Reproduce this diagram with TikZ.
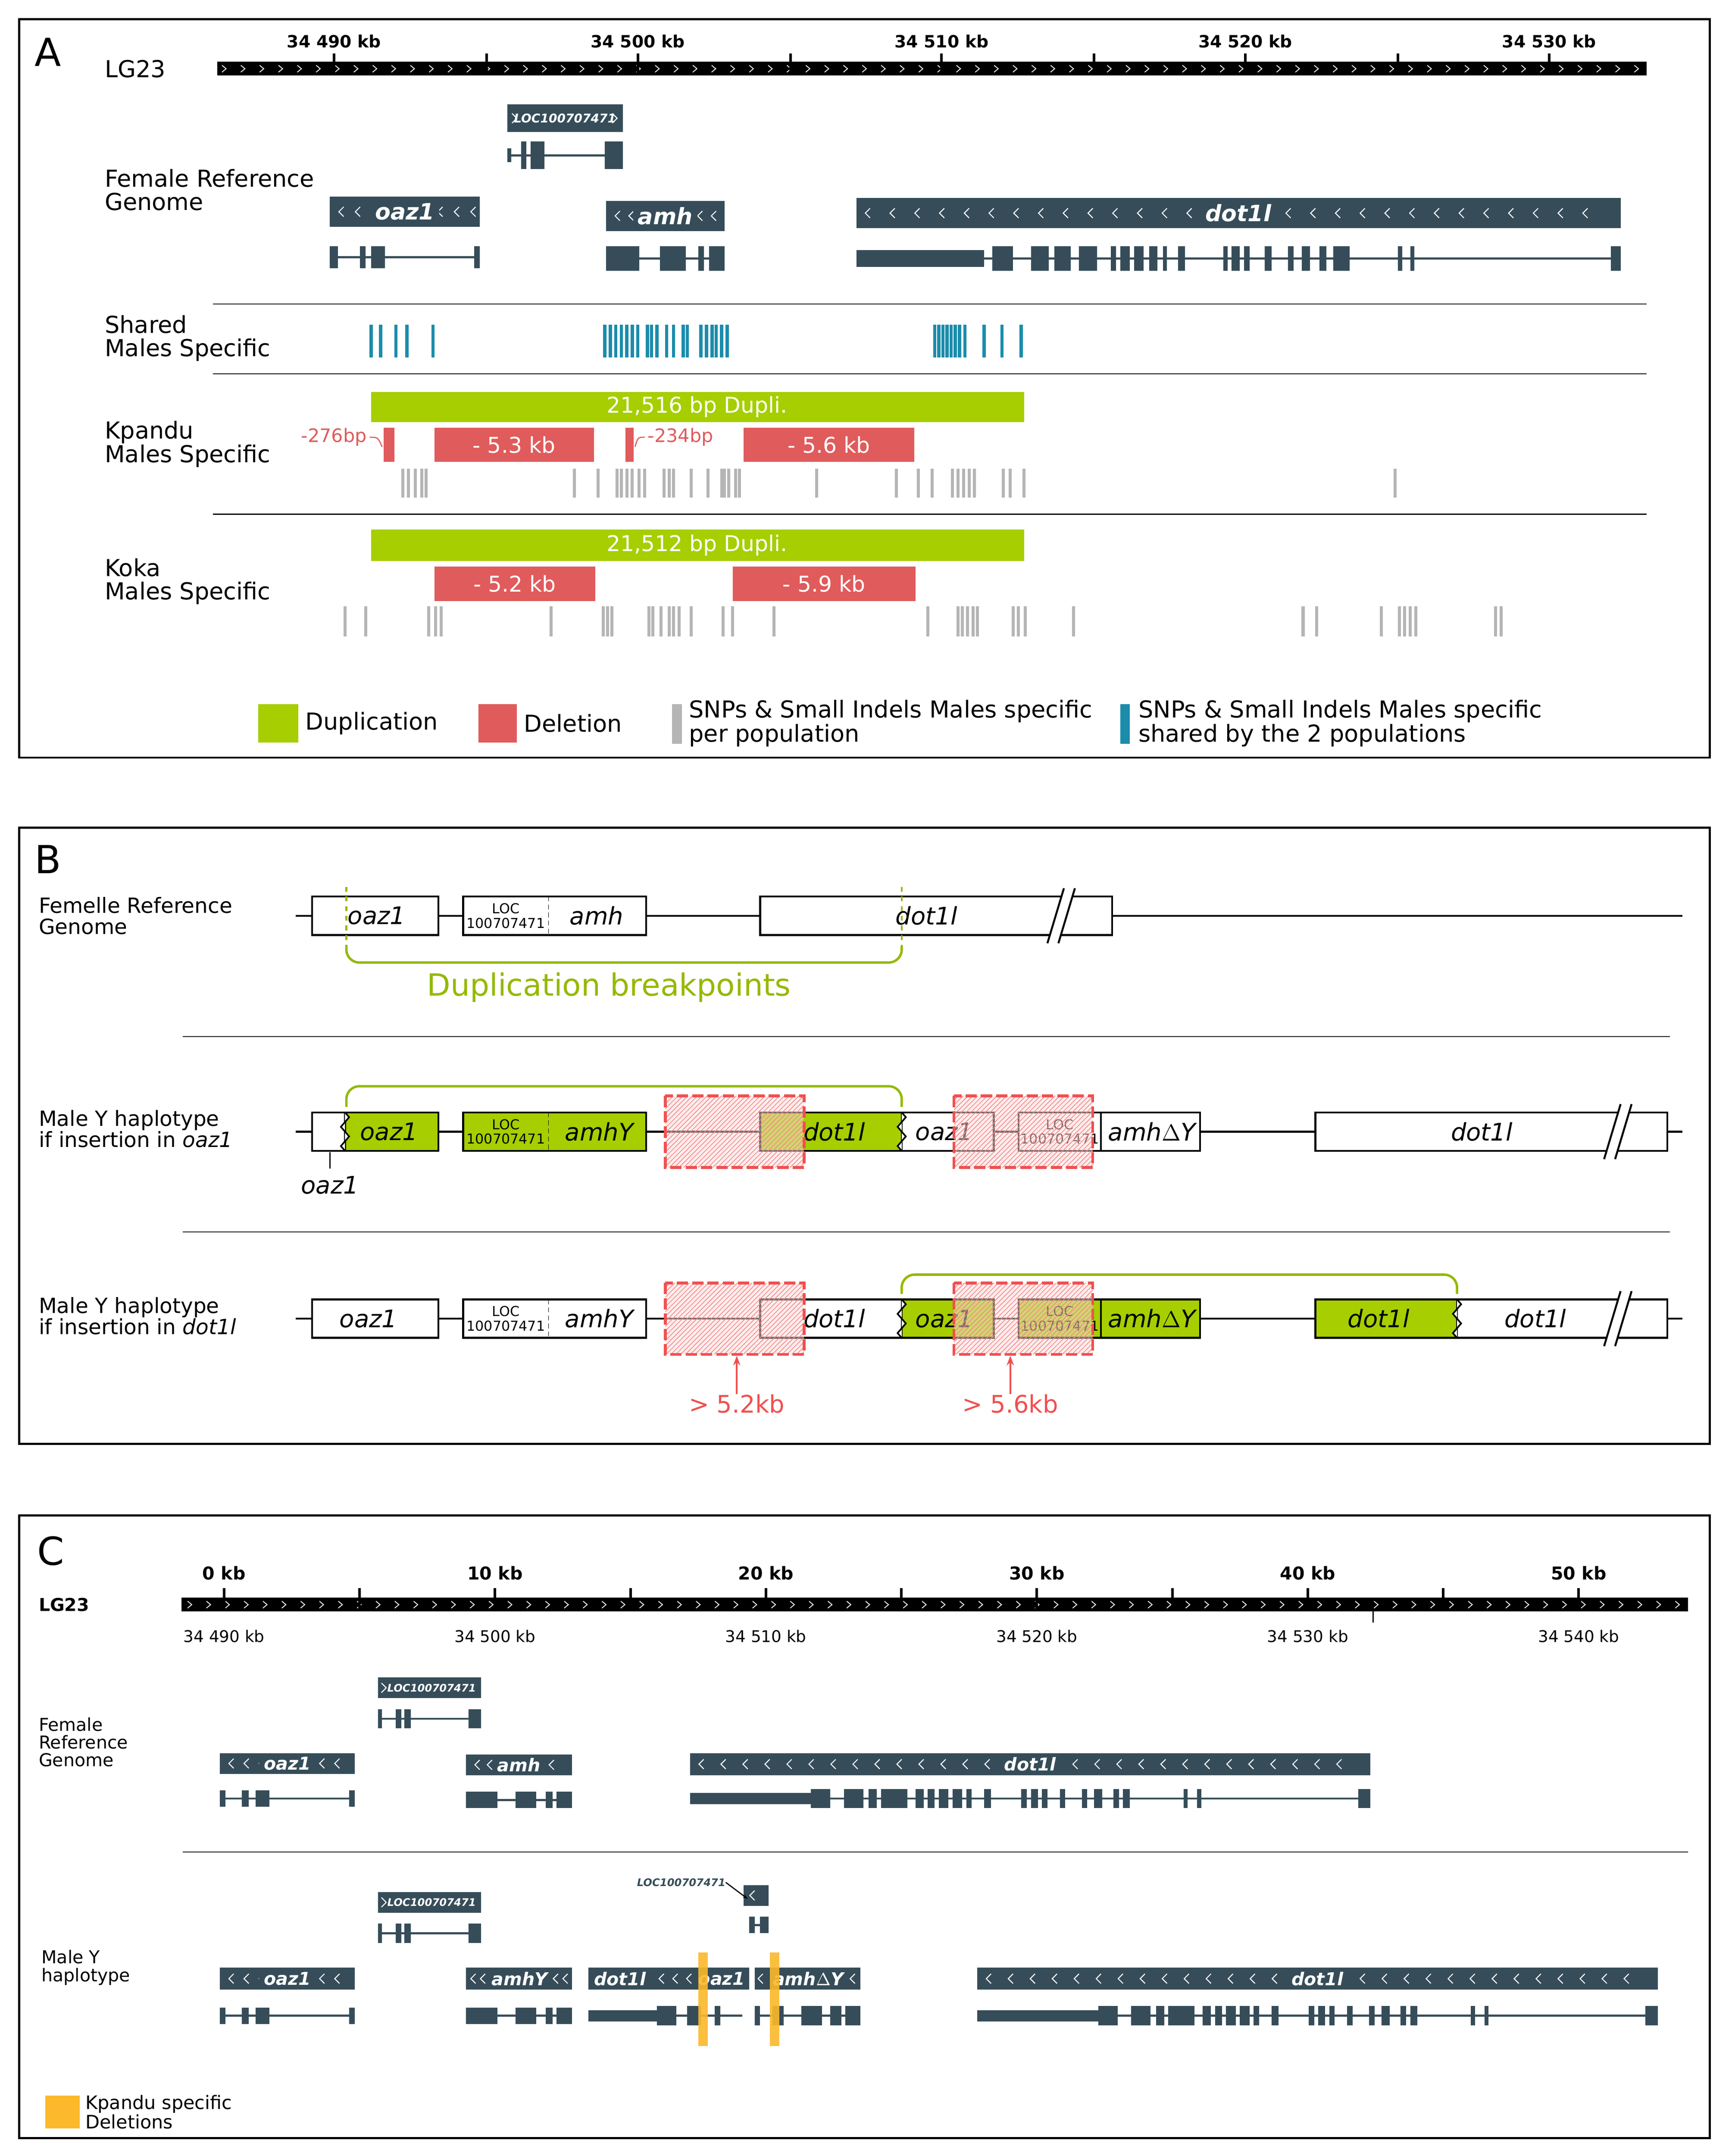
\documentclass[tikz,border=0pt]{standalone}
\usepackage{fontspec}
\setmainfont{DejaVu Sans}
\usetikzlibrary{patterns,arrows.meta}
\definecolor{slate}{HTML}{364D59}
\definecolor{dgreen}{HTML}{A6CE00}
\definecolor{dred}{HTML}{E05B5B}
\definecolor{hred}{HTML}{F05050}
\definecolor{dblue}{HTML}{1B8CAB}
\definecolor{dgrey}{HTML}{B5B5B5}
\definecolor{dorange}{HTML}{FBB92B}
\newcommand\fsz[1]{\fontsize{#1}{#1}\selectfont}
\newcommand\exn[3]{\foreach \a/\b in {#3}{\fill[slate] (\a,{#1-#2}) rectangle (\b,{#1+#2});}}
\newcommand\intr[3]{\draw[slate, line width=1.3pt] (#2,#1) -- (#3,#1);}
\newcommand\chevL[2]{\draw[white, line width=0.6pt] ({#1+2},{#2-3.5}) -- ({#1-1.5},{#2}) -- ({#1+2},{#2+3.5});}
\newcommand\chevR[2]{\draw[white, line width=0.6pt] ({#1-1.5},{#2-3.5}) -- ({#1+2},{#2}) -- ({#1-1.5},{#2+3.5});}
\newcommand\gbox[9]{%
 \fill[slate] (#2,#3) rectangle (#4,#5);
 \foreach \i in {0,...,#8}{\chevL{#2+8+\i*#9}{(#3+#5)/2}}
 \node[fill=slate,text=white,font=#7,inner xsep=3pt,inner ysep=0.5pt] (#1) at ({(#2+#4)/2},{(#3+#5)/2}) {\textbf{\textit{#6}}};}
\newcommand\zig[3]{\draw[line width=1pt,fill=white] (#1,#2) -- ({#1+3},{#2+3.5}) -- ({#1-3},{#2+10.5}) -- ({#1+3},{#2+17.5}) -- ({#1-3},{#3-3.5}) -- (#1,#3);}
\newcommand\brk[3]{\fill[white] ({#1-8},{#3+6}) -- ({#1+4},{#2-6}) -- ({#1+12},{#2-6}) -- (#1,{#3+6}) -- cycle;
 \draw[line width=1.2pt] ({#1-8},{#3+6}) -- ({#1+4},{#2-6}) (#1,{#3+6}) -- ({#1+12},{#2-6});}
\newcommand\hatch[2]{\fill[hred!20, fill opacity=0.5] (#1,#2) rectangle ({#1+101},{#2+52});
 \fill[pattern=north east lines, pattern color=hred!70] (#1,#2) rectangle ({#1+101},{#2+52});
 \draw[hred, line width=1.8pt, dash pattern=on 7pt off 2.5pt] (#1,#2) rectangle ({#1+101},{#2+52});}
\tikzset{
 lab/.style={font=\fsz{14.5}, align=left, anchor=west},
 blab/.style={font=\fsz{13}, align=left, anchor=west},
 clab/.style={font=\fsz{11}, align=left, anchor=west},
 panel/.style={line width=1.3pt},
 bx/.style={draw, line width=1.2pt, fill=white},
 gx/.style={draw, line width=1.2pt, fill=dgreen},
 gname/.style={font=\fsz{15}\itshape},
 locn/.style={font=\fontsize{8.5}{9}\selectfont, align=center},
 gbr/.style={dgreen!90!black, line width=1.5pt, rounded corners=8pt},
 wt/.style={text=white, font=\fsz{13.5}}
}
\begin{document}
\begin{tikzpicture}[x=0.03cm,y=-0.03cm, every node/.style={inner sep=0pt}]
\useasboundingbox (0,0) rectangle (1262,1568);
\fill[white] (0,0) rectangle (1262,1568);
% ================= PANEL A
\draw[panel] (14,14) rectangle (1244,551);
\node[font=\fsz{24}] (pA) at (35,38) {A};
\node[lab] (lg) at (76,50) {LG23};
\fill[black] (158,45) rectangle (1198,55);
\foreach \i in {0,...,75} {\draw[white,line width=0.5pt] ({163+\i*13.7-1.5},47.5) -- ({163+\i*13.7+1.5},50) -- ({163+\i*13.7-1.5},52.5);}
\foreach \x in {243,354,464,575,685,796,906,1017,1127} {\draw[line width=1.6pt] (\x,39) -- (\x,55);}
\foreach \x/\t in {243/34 490 kb,464/34 500 kb,685/34 510 kb,906/34 520 kb,1127/34 530 kb} {\node[font=\bfseries\fsz{10.5}] at (\x,30) {\t};}
\node[lab] (fr) at (76,138) {Female Reference\\Genome};
% LOC
\fill[slate] (369,76) rectangle (453,96);
\chevR{374}{86} \chevR{447}{86}
\node[text=white,font=\bfseries\itshape\fsz{7.5}] (locA) at (411,86) {LOC100707471};
\intr{113}{369}{453}
\exn{113}{5}{369/372}
\exn{113}{10}{379/383,386/396,440/453}
\gbox{oazA}{240}{143}{349}{165}{oaz1}{\fsz{14}}{8}{12}
\intr{187}{240}{349}
\exn{187}{8}{240/246,262/266,270/280,345/349}
\gbox{amhA}{441}{146}{527}{168}{amh}{\fsz{14}}{7}{10}
\intr{188}{441}{527}
\exn{188}{9}{441/465,480/499,508/512,516/527}
\gbox{dotA}{623}{144}{1179}{166}{dot1l}{\fsz{14}}{29}{18}
\intr{188}{623}{1179}
\exn{188}{6}{623/716}
\exn{188}{9}{722/737,750/763,767/779,785/798,808/812,815/822,825/832,836/842,846/849,857/862,890/893,896/902,905/909,920/925,937/941,947/953,960/965,970/982,1017/1020,1026/1029,1172/1179}
\draw[line width=0.6pt] (155,221) -- (1198,221);
\draw[line width=0.6pt] (155,272) -- (1198,272);
\draw[line width=0.6pt] (155,374) -- (1198,374);
\node[lab] (sh) at (76,246) {Shared\\Males Specific};
\foreach \x in {270,277,288,296,315,440,444,448,452,456,460,464,471,474,478,485,490,497,500,510,514,518,521,525,529,680,683,686,689,692,695,698,702,716,729,743} {\fill[dblue] ({\x-1.2},236) rectangle ({\x+1.2},260);}
% Kpandu
\node[lab] (kp) at (76,323) {Kpandu\\Males Specific};
\fill[dgreen] (270,285) rectangle (745,307);
\node[wt] (dup1) at (507,296) {21,516 bp Dupli.};
\fill[dred] (279,311) rectangle (287,336);
\fill[dred] (316,311) rectangle (432,336);
\node[wt] (d53) at (374,323.5) {- 5.3 kb};
\fill[dred] (455,311) rectangle (461,336);
\fill[dred] (541,311) rectangle (665,336);
\node[wt] (d56) at (603,323.5) {- 5.6 kb};
\node[text=dred,font=\fsz{11.5},anchor=east] (b276) at (267,318) {-276bp};
\draw[dred,line width=0.7pt] (269,318) .. controls (275,318) .. (278,325);
\node[text=dred,font=\fsz{11.5},anchor=west] (b234) at (471,318) {-234bp};
\draw[dred,line width=0.7pt] (469,318) .. controls (464,318) .. (462,325);
\foreach \x in {293,297,302,307,310,418,435,449,452,456,460,465,469,483,487,490,503,515,525,527,530,535,538,594,652,668,678,693,697,701,705,709,730,735,745,1015} {\fill[dgrey] ({\x-1.1},341) rectangle ({\x+1.1},362);}
% Koka
\node[lab] (kk) at (76,423) {Koka\\Males Specific};
\fill[dgreen] (270,385) rectangle (745,408);
\node[wt] (dup2) at (507,396.5) {21,512 bp Dupli.};
\fill[dred] (316,412) rectangle (433,437);
\node[wt] (d52) at (374.5,424.5) {- 5.2 kb};
\fill[dred] (533,412) rectangle (666,437);
\node[wt] (d59) at (599.5,424.5) {- 5.9 kb};
\foreach \x in {251,266,312,317,321,401,439,442,445,472,475,481,487,490,494,503,526,533,563,675,697,700,704,708,711,737,741,746,781,948,958,1005,1018,1022,1026,1030,1088,1092} {\fill[dgrey] ({\x-1.1},441) rectangle ({\x+1.1},463);}
% legend
\fill[dgreen] (188,512) rectangle (217,540);
\node[lab,font=\fsz{14.5}] (lg1) at (222,526) {Duplication};
\fill[dred] (348,512) rectangle (376,540);
\node[lab,font=\fsz{14.5}] (lg2) at (381,526) {Deletion};
\fill[dgrey] (489,512) rectangle (496,541);
\node[lab,font=\fontsize{14.5}{15}\selectfont] (lg3) at (501,526) {SNPs \& Small Indels Males specific\\per population};
\fill[dblue] (815,512) rectangle (822,541);
\node[lab,font=\fontsize{14.5}{15}\selectfont] (lg4) at (828,526) {SNPs \& Small Indels Males specific\\shared by the 2 populations};
% ================= PANEL B
\draw[panel] (14,602) rectangle (1244,1050);
\node[font=\fsz{24}] (pB) at (35,625) {B};
\node[blab] (r1) at (28,666) {Femelle Reference\\Genome};
\draw[line width=1.2pt] (215,666) -- (1224,666);
\draw[bx] (227,652) rectangle (319,680); \node[gname] at (274,666) {oaz1};
\draw[bx] (337,652) rectangle (470,680); \draw[densely dashed] (399,652) -- (399,680);
\node[locn] at (368,666) {LOC\\100707471}; \node[gname] at (434,666) {amh};
\draw[bx] (553,652) rectangle (809,680); \node[gname] at (674,666) {dot1l};
\brk{770}{652}{680}
\draw[dgreen!90!black, line width=1.2pt, dashed] (252,645) -- (252,688);
\draw[dgreen!90!black, line width=1.2pt, dashed] (656,645) -- (656,688);
\draw[gbr] (252,688) -- (252,700) -- (656,700) -- (656,688);
\node[text=dgreen!90!black, font=\fsz{19}] (dbp) at (443,718) {Duplication breakpoints};
\draw[line width=0.6pt] (133,754) -- (1215,754);
\draw[line width=0.6pt] (133,896) -- (1215,896);
% row 2
\node[blab] (r2) at (28,821) {Male Y haplotype\\if insertion in \textit{oaz1}};
\draw[line width=1.2pt] (215,823) -- (1224,823);
\draw[gbr] (252,805) -- (252,790) -- (656,790) -- (656,805);
\draw[bx] (227,809) rectangle (251,837);
\draw[gx] (251,809) rectangle (319,837); \zig{251}{809}{837}
\node[gname] at (283,823) {oaz1};
\draw[gx] (337,809) rectangle (470,837); \draw[densely dashed] (399,809) -- (399,837);
\node[locn] at (368,823) {LOC\\100707471}; \node[gname] at (436,823) {amhY};
\draw[gx] (553,809) rectangle (656,837); \node[gname] at (607,823) {dot1l};
\draw[bx] (656,809) rectangle (723,837); \zig{656}{809}{837} \node[gname] at (687,823) {oaz1};
\draw[bx] (741,809) rectangle (801,837); \node[locn] at (771,823) {LOC\\100707471};
\draw[bx] (801,809) rectangle (873,837); \node[gname] at (838,823) {amh$\Delta$Y};
\draw[bx] (957,809) rectangle (1213,837); \node[gname] at (1078,823) {dot1l};
\brk{1175}{809}{837}
\hatch{484}{797}
\hatch{694}{797}
\draw[line width=0.7pt] (240,838) -- (240,850);
\node[gname] (oz) at (240,862) {oaz1};
% row 3
\node[blab] (r3) at (28,957) {Male Y haplotype\\if insertion in \textit{dot1l}};
\draw[line width=1.2pt] (215,959) -- (1224,959);
\draw[gbr] (656,941) -- (656,927) -- (1060,927) -- (1060,941);
\draw[bx] (227,945) rectangle (319,973); \node[gname] at (268,959) {oaz1};
\draw[bx] (337,945) rectangle (470,973); \draw[densely dashed] (399,945) -- (399,973);
\node[locn] at (368,959) {LOC\\100707471}; \node[gname] at (436,959) {amhY};
\draw[bx] (553,945) rectangle (656,973); \node[gname] at (607,959) {dot1l};
\draw[gx] (656,945) rectangle (723,973); \zig{656}{945}{973} \node[gname] at (687,959) {oaz1};
\draw[gx] (741,945) rectangle (801,973); \node[locn] at (771,959) {LOC\\100707471};
\draw[gx] (801,945) rectangle (873,973); \node[gname] at (838,959) {amh$\Delta$Y};
\draw[gx] (957,945) rectangle (1060,973); \node[gname] at (1003,959) {dot1l};
\draw[bx] (1060,945) rectangle (1213,973); \zig{1060}{945}{973} \node[gname] at (1117,959) {dot1l};
\brk{1175}{945}{973}
\hatch{484}{933}
\hatch{694}{933}
\node[text=hred, font=\fsz{15}] (a52) at (536,1021) {> 5.2kb};
\node[text=hred, font=\fsz{15}] (a56) at (735,1021) {> 5.6kb};
\draw[hred, line width=1.2pt, -{Stealth[length=6pt]}] (a52.north) -- (536,986);
\draw[hred, line width=1.2pt, -{Stealth[length=6pt]}] (a56.north) -- (735,986);
% ================= PANEL C
\draw[panel] (14,1102) rectangle (1244,1555);
\node[font=\fsz{24}] (pC) at (37,1128) {C};
\node[clab,font=\bfseries\fsz{11}] (lgc) at (28,1167) {LG23};
\fill[black] (132,1162) rectangle (1228,1172);
\foreach \i in {0,...,79} {\draw[white,line width=0.5pt] ({138+\i*13.7-1.5},1164.5) -- ({138+\i*13.7+1.5},1167) -- ({138+\i*13.7-1.5},1169.5);}
\foreach \k in {0,...,10} {\draw[line width=1.6pt] ({163+\k*98.55},1155) -- ({163+\k*98.55},1172);}
\draw[line width=0.8pt] (999,1172) -- (999,1180);
\foreach \k/\t in {0/0 kb,1/10 kb,2/20 kb,3/30 kb,4/40 kb,5/50 kb} {\node[font=\bfseries\fsz{11}] at ({163+\k*197.1},1144) {\t};}
\foreach \k/\t in {0/34 490 kb,1/34 500 kb,2/34 510 kb,3/34 520 kb,4/34 530 kb,5/34 540 kb} {\node[font=\fsz{10}] at ({163+\k*197.1},1190) {\t};}
\node[clab] (fc) at (28,1267) {Female\\Reference\\Genome};
% female C
\fill[slate] (275,1220) rectangle (350,1235); \chevR{279}{1227.5}
\node[text=white,font=\bfseries\itshape\fsz{6.5}] (locC1) at (314,1227.5) {LOC100707471};
\intr{1250}{275}{350} \exn{1250}{7}{275/278,288/292,294/299,341/350}
\gbox{oazC}{160}{1275}{258}{1290}{oaz1}{\fsz{11}}{7}{11}
\intr{1308}{160}{258} \exn{1308}{6}{160/164,176/181,186/196,254/258}
\gbox{amhC}{339}{1276}{416}{1291}{amh}{\fsz{11}}{6}{9}
\intr{1309}{339}{416} \exn{1309}{6}{339/362,375/390,397/402,405/416}
\gbox{dotC}{502}{1275}{997}{1291}{dot1l}{\fsz{11}}{29}{16}
\intr{1308}{502}{997} \exn{1308}{4}{502/590}
\exn{1308}{7}{590/604,614/628,632/638,641/660,666/672,675/680,683/690,693/700,703/707,716/721,743/747,750/755,758/762,771/775,787/791,796/802,810/814,817/822,861/864,871/874,988/997}
\draw[line width=0.6pt] (133,1347) -- (1228,1347);
% male C
\node[clab] (mc) at (30,1431) {Male Y\\haplotype};
\fill[slate] (275,1376) rectangle (350,1391); \chevR{279}{1383.5}
\node[text=white,font=\bfseries\itshape\fsz{6.5}] (locC2) at (314,1383.5) {LOC100707471};
\intr{1406}{275}{350} \exn{1406}{7}{275/278,288/292,294/299,341/350}
\fill[slate] (541,1371) rectangle (559,1386); \chevL{547}{1378.5}
\node[font=\bfseries\itshape\fsz{6.5}, text=slate, anchor=east] (locs) at (528,1369) {LOC100707471};
\draw[line width=0.7pt, -{Stealth[length=3pt]}] (locs.east) -- (544,1381);
\intr{1400}{545}{559} \exn{1400}{6}{545/549,553/559}
\gbox{oazM}{160}{1431}{258}{1447}{oaz1}{\fsz{11}}{7}{11}
\intr{1466}{160}{258} \exn{1466}{6}{160/164,176/181,186/196,254/258}
\fill[slate] (339,1431) rectangle (416,1447);
\chevL{344}{1439} \chevL{351}{1439} \chevL{404}{1439} \chevL{411}{1439}
\node[text=white,font=\bfseries\itshape\fsz{11}] (amhM) at (378,1439) {amhY};
\intr{1466}{339}{416} \exn{1466}{6}{339/362,375/390,397/402,405/416}
\fill[slate] (428,1431) rectangle (545,1447);
\node[text=white,font=\bfseries\itshape\fsz{11}] (dotp) at (451,1439) {dot1l};
\chevL{481}{1439} \chevL{491}{1439} \chevL{501}{1439}
\node[text=white,font=\bfseries\itshape\fsz{11}] (oazp) at (525,1439) {oaz1};
\intr{1466}{428}{540} \exn{1466}{4}{428/478} \exn{1466}{7}{478/492,500/510,520/524}
\fill[slate] (549,1431) rectangle (626,1447);
\chevL{553}{1439} \chevL{620}{1439}
\node[text=white,font=\bfseries\itshape\fsz{11}] (amhd) at (588,1439) {amh$\Delta$Y};
\intr{1466}{549}{626} \exn{1466}{7}{549/553,562/570,583/598,604/612,615/626}
\gbox{dotM}{711}{1431}{1206}{1447}{dot1l}{\fsz{11}}{29}{16}
\intr{1466}{711}{1206} \exn{1466}{4}{711/799}
\exn{1466}{7}{799/813,823/837,841/847,850/869,875/881,884/889,892/899,902/909,912/916,925/930,952/956,959/964,967/971,980/984,996/1000,1005/1011,1019/1023,1026/1031,1070/1073,1080/1083,1197/1206}
\fill[dorange, fill opacity=0.9] (508,1420) rectangle (515,1488);
\fill[dorange, fill opacity=0.9] (560,1420) rectangle (567,1488);
\fill[dorange] (33,1524) rectangle (58,1548);
\node[clab,font=\fontsize{11.5}{11}\selectfont] (klg) at (62,1536) {Kpandu specific\\Deletions};
\end{tikzpicture}
\end{document}
